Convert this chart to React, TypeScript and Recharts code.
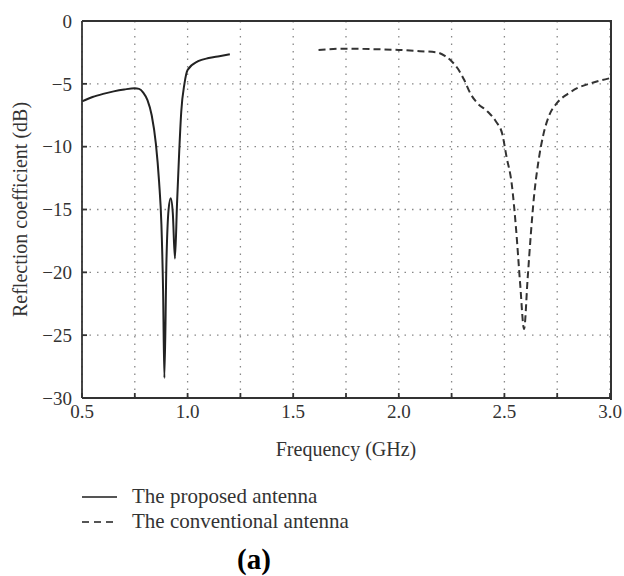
import { LineChart, Line, XAxis, YAxis, CartesianGrid, Label } from 'recharts';

const proposedFreq = [0.5, 0.55, 0.6, 0.65, 0.7, 0.75, 0.77, 0.79, 0.81, 0.83, 0.85, 0.865, 0.876, 0.884, 0.89, 0.9, 0.91, 0.92, 0.93, 0.94, 0.95, 0.96, 0.97, 0.985, 1.0, 1.05, 1.1, 1.15, 1.2];
const proposedDb = [-6.4, -6.05, -5.8, -5.6, -5.45, -5.35, -5.4, -5.7, -6.3, -7.5, -9.8, -12.8, -16.2, -21.5, -28.4, -19, -15, -14.1, -15.3, -18.9, -14.5, -10.5, -7.2, -5.0, -3.9, -3.2, -2.95, -2.8, -2.65];

const conventionalFreq = [1.62, 1.75, 1.9, 2.0, 2.1, 2.18, 2.22, 2.25, 2.28, 2.31, 2.34, 2.37, 2.42, 2.46, 2.49, 2.51, 2.535, 2.555, 2.575, 2.593, 2.61, 2.625, 2.64, 2.66, 2.685, 2.71, 2.75, 2.8, 2.85, 2.9, 2.95, 3.0];
const conventionalDb = [-2.3, -2.2, -2.25, -2.3, -2.4, -2.5, -2.8, -3.2, -3.8, -4.7, -5.8, -6.5, -7.2, -8.0, -9.0, -10.8, -13, -16.5, -21, -24.5, -20.5, -17, -14, -11.3, -9, -7.6, -6.5, -5.8, -5.3, -5.0, -4.75, -4.55];

const xTicks = [0.5, 0.75, 1.0, 1.25, 1.5, 1.75, 2.0, 2.25, 2.5, 2.75, 3.0];
const yTicks = [-30, -25, -20, -15, -10, -5, 0];

const proposed = proposedFreq.map((x, i) => ({ x, y: proposedDb[i] }));
const conventional = conventionalFreq.map((x, i) => ({ x, y: conventionalDb[i] }));

const font = '"Liberation Serif", "Times New Roman", serif';
const tickStyle = { fontFamily: font, fontSize: 19, fill: '#333' };
const frame = { stroke: '#333', strokeWidth: 1.8 };

const fmtX = (v: number) => (Math.abs((v * 2) % 1) < 1e-9 ? v.toFixed(1) : '');
const fmtY = (v: number) => (v < 0 ? '\u2212' + Math.abs(v) : String(v));

export default function App() {
  return (
    <div style={{ position: 'absolute', left: 0, top: 0, width: 624, height: 576, background: '#fff', fontFamily: font }}>
      <LineChart width={624} height={470} margin={{ top: 21, right: 14, bottom: 42, left: 0 }}>
        <CartesianGrid stroke="#888" strokeWidth={1.3} strokeDasharray="1.5 6" />
        <XAxis
          type="number"
          dataKey="x"
          domain={[0.5, 3]}
          ticks={xTicks}
          tickFormatter={fmtX}
          tick={tickStyle}
          tickSize={-5}
          tickMargin={12}
          height={30}
          axisLine={frame}
          tickLine={frame}
        >
          <Label value="Frequency (GHz)" position="bottom" offset={14} style={{ fontFamily: font, fontSize: 20, fill: '#333' }} />
        </XAxis>
        <YAxis
          type="number"
          domain={[-30, 0]}
          ticks={yTicks}
          tickFormatter={fmtY}
          tick={tickStyle}
          tickSize={-5}
          tickMargin={15}
          width={82}
          axisLine={frame}
          tickLine={frame}
        >
          <Label
            value="Reflection coefficient (dB)"
            angle={-90}
            position="insideLeft"
            offset={0}
            dx={20}
            style={{ fontFamily: font, fontSize: 20, fill: '#333', textAnchor: 'middle' }}
          />
        </YAxis>
        <Line
          data={proposed}
          dataKey="y"
          type="monotone"
          stroke="#222"
          strokeWidth={2}
          dot={false}
          isAnimationActive={false}
        />
        <Line
          data={conventional}
          dataKey="y"
          type="monotone"
          stroke="#333"
          strokeWidth={2}
          strokeDasharray="7 4"
          dot={false}
          isAnimationActive={false}
        />
      </LineChart>
      {/* top and right edges of the plot frame */}
      <div
        style={{
          position: 'absolute',
          left: 82,
          top: 20,
          width: 528,
          height: 378,
          borderTop: '2px solid #333',
          borderRight: '2px solid #333',
          pointerEvents: 'none',
        }}
      />
      <div style={{ position: 'absolute', left: 82, top: 484, fontSize: 21, color: '#333', lineHeight: '25px' }}>
        <div style={{ display: 'flex', alignItems: 'center' }}>
          <svg width={36} height={4}><line x1={0} y1={2} x2={35} y2={2} stroke="#555" strokeWidth={2} /></svg>
          <span style={{ marginLeft: 14 }}>The proposed antenna</span>
        </div>
        <div style={{ display: 'flex', alignItems: 'center' }}>
          <svg width={36} height={4}><line x1={0} y1={2} x2={35} y2={2} stroke="#555" strokeWidth={2} strokeDasharray="7 5" /></svg>
          <span style={{ marginLeft: 14 }}>The conventional antenna</span>
        </div>
      </div>
      <div style={{ position: 'absolute', left: 237, top: 543, fontSize: 29, fontWeight: 'bold', color: '#000' }}>(a)</div>
    </div>
  );
}
